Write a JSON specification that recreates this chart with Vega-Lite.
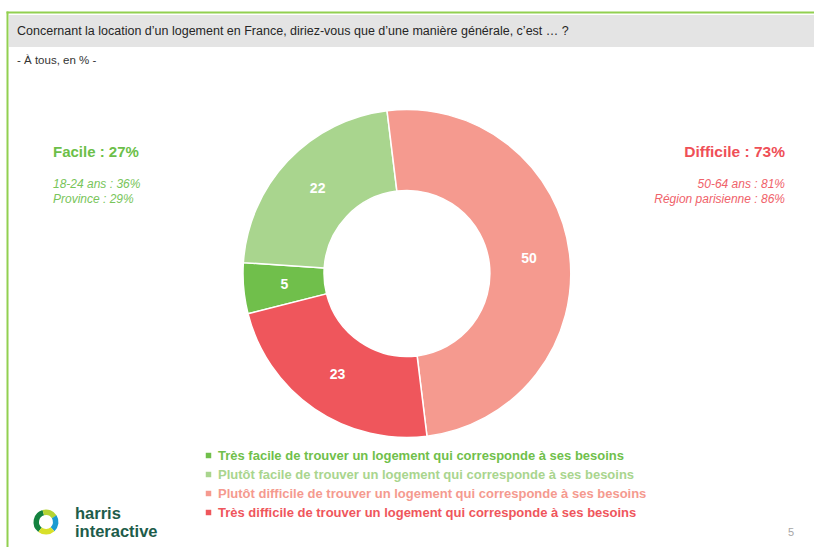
{
  "$schema": "https://vega.github.io/schema/vega-lite/v6.json",
  "width": 814,
  "height": 547,
  "autosize": {"type": "none"},
  "padding": 0,
  "background": "white",
  "config": {"view": {"stroke": null}, "font": "Liberation Sans"},
  "datasets": {
    "reponses": [
      {"categorie": "Très facile de trouver un logement qui corresponde à ses besoins", "valeur": 5, "ordre": 3},
      {"categorie": "Plutôt facile de trouver un logement qui corresponde à ses besoins", "valeur": 22, "ordre": 4},
      {"categorie": "Plutôt difficile de trouver un logement qui corresponde à ses besoins", "valeur": 50, "ordre": 1},
      {"categorie": "Très difficile de trouver un logement qui corresponde à ses besoins", "valeur": 23, "ordre": 2}
    ],
    "un": [{}]
  },
  "layer": [
    {"data": {"name": "un"}, "mark": {"type": "rect", "x": 9, "x2": 814, "y": 15, "y2": 47, "fill": "#e4e4e4"}, "encoding": {}},
    {"data": {"name": "un"}, "mark": {"type": "rect", "x": 6.5, "x2": 814, "y": 11.5, "y2": 13.5, "fill": "#92d050"}, "encoding": {}},
    {"data": {"name": "un"}, "mark": {"type": "rect", "x": 6.5, "x2": 8.5, "y": 11.5, "y2": 547, "fill": "#92d050"}, "encoding": {}},
    {"data": {"name": "un"}, "mark": {"type": "text", "x": 17, "y": 31, "align": "left", "baseline": "middle", "fontSize": 12.5, "fill": "#262626", "text": "Concernant la location d’un logement en France, diriez-vous que d’une manière générale, c’est … ?"}, "encoding": {}},
    {"data": {"name": "un"}, "mark": {"type": "text", "x": 17, "y": 61, "align": "left", "baseline": "middle", "fontSize": 11.5, "fill": "#333333", "text": "- À tous, en % -"}, "encoding": {}},
    {
      "data": {"name": "reponses"},
      "mark": {"type": "arc", "outerRadius": 164, "innerRadius": 83, "stroke": "white", "strokeWidth": 1.5},
      "encoding": {
        "theta": {"field": "valeur", "type": "quantitative", "stack": true, "scale": {"range": [-0.122, 6.161]}},
        "order": {"field": "ordre", "type": "quantitative"},
        "color": {
          "field": "categorie",
          "type": "nominal",
          "scale": {
            "domain": [
              "Très facile de trouver un logement qui corresponde à ses besoins",
              "Plutôt facile de trouver un logement qui corresponde à ses besoins",
              "Plutôt difficile de trouver un logement qui corresponde à ses besoins",
              "Très difficile de trouver un logement qui corresponde à ses besoins"
            ],
            "range": ["#70bf4b", "#a9d58e", "#f59a8f", "#ef565c"]
          },
          "legend": {
            "orient": "none",
            "legendX": 202,
            "legendY": 449,
            "title": null,
            "symbolType": "square",
            "symbolSize": 30,
            "symbolStrokeWidth": 0,
            "labelFont": "Liberation Sans",
            "labelFontSize": 13,
            "labelFontWeight": "bold",
            "labelLimit": 0,
            "labelOffset": 3,
            "rowPadding": 5,
            "labelColor": {"expr": "scale('color', datum.value)"}
          }
        }
      }
    },
    {
      "data": {"name": "reponses"},
      "mark": {"type": "text", "radius": 123, "fill": "white", "fontWeight": "bold", "fontSize": 14, "baseline": "middle", "align": "center"},
      "encoding": {
        "theta": {"field": "valeur", "type": "quantitative", "stack": true, "scale": {"range": [-0.122, 6.161]}},
        "order": {"field": "ordre", "type": "quantitative"},
        "text": {"field": "valeur", "type": "quantitative"}
      }
    },
    {"data": {"name": "un"}, "mark": {"type": "text", "x": 53, "y": 152, "align": "left", "baseline": "middle", "fontSize": 15, "fontWeight": "bold", "fill": "#6cbf49", "text": "Facile : 27%"}, "encoding": {}},
    {"data": {"name": "un"}, "mark": {"type": "text", "x": 53, "y": 184, "align": "left", "baseline": "middle", "fontSize": 12, "fontStyle": "italic", "fill": "#78c55a", "text": "18-24 ans : 36%"}, "encoding": {}},
    {"data": {"name": "un"}, "mark": {"type": "text", "x": 53, "y": 199, "align": "left", "baseline": "middle", "fontSize": 12, "fontStyle": "italic", "fill": "#78c55a", "text": "Province : 29%"}, "encoding": {}},
    {"data": {"name": "un"}, "mark": {"type": "text", "x": 785, "y": 152, "align": "right", "baseline": "middle", "fontSize": 15.5, "fontWeight": "bold", "fill": "#ef4f57", "text": "Difficile : 73%"}, "encoding": {}},
    {"data": {"name": "un"}, "mark": {"type": "text", "x": 785, "y": 184, "align": "right", "baseline": "middle", "fontSize": 12, "fontStyle": "italic", "fill": "#f0626a", "text": "50-64 ans  : 81%"}, "encoding": {}},
    {"data": {"name": "un"}, "mark": {"type": "text", "x": 785, "y": 199, "align": "right", "baseline": "middle", "fontSize": 12, "fontStyle": "italic", "fill": "#f0626a", "text": "Région parisienne : 86%"}, "encoding": {}},
    {"data": {"name": "un"}, "mark": {"type": "arc", "x": 46, "y": 522, "outerRadius": 12.5, "innerRadius": 7, "theta": 3.8, "theta2": 6.0, "fill": "#13823f"}, "encoding": {}},
    {"data": {"name": "un"}, "mark": {"type": "arc", "x": 46, "y": 522, "outerRadius": 12.5, "innerRadius": 7, "theta": 6.0, "theta2": 7.3, "fill": "#b5d334"}, "encoding": {}},
    {"data": {"name": "un"}, "mark": {"type": "arc", "x": 46, "y": 522, "outerRadius": 12.5, "innerRadius": 7, "theta": 1.0, "theta2": 2.4, "fill": "#1b9bd1"}, "encoding": {}},
    {"data": {"name": "un"}, "mark": {"type": "arc", "x": 46, "y": 522, "outerRadius": 12.5, "innerRadius": 7, "theta": 2.4, "theta2": 3.8, "fill": "#d8e02a"}, "encoding": {}},
    {"data": {"name": "un"}, "mark": {"type": "text", "x": 75, "y": 513.5, "align": "left", "baseline": "middle", "fontSize": 16.5, "fontWeight": "bold", "fill": "#1d5c4a", "text": "harris"}, "encoding": {}},
    {"data": {"name": "un"}, "mark": {"type": "text", "x": 75, "y": 532, "align": "left", "baseline": "middle", "fontSize": 16.5, "fontWeight": "bold", "fill": "#1d5c4a", "text": "interactive"}, "encoding": {}},
    {"data": {"name": "un"}, "mark": {"type": "text", "x": 791, "y": 533, "align": "center", "baseline": "middle", "fontSize": 11, "fill": "#a6a6a6", "text": "5"}, "encoding": {}}
  ]
}
